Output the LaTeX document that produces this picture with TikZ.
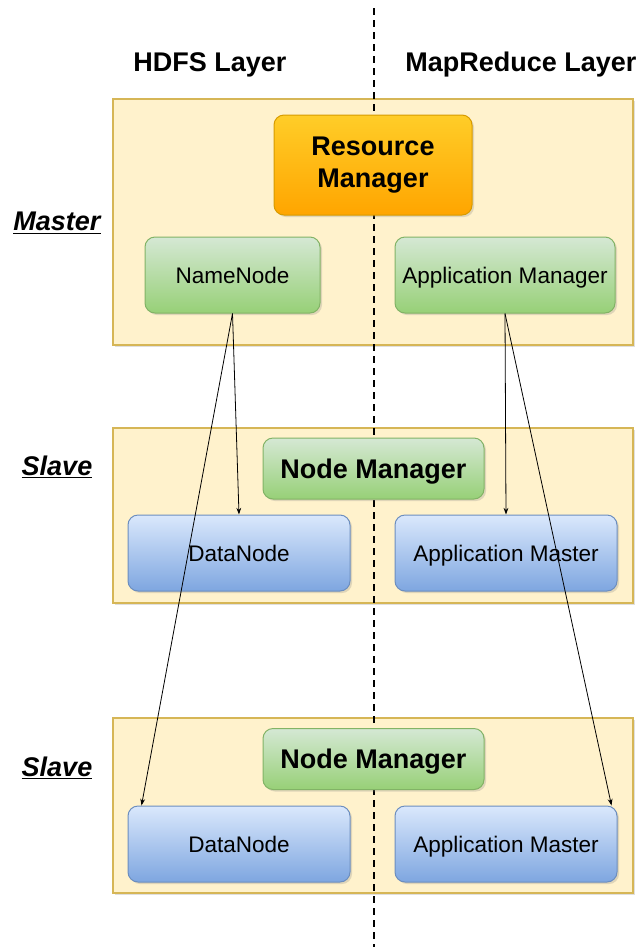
\documentclass[tikz,border=0pt]{standalone}
\usepackage{fontspec}
\setmainfont{Liberation Sans}
\usetikzlibrary{arrows.meta,shadows}

\definecolor{tierfill}{HTML}{FFF2CC}
\definecolor{tierline}{HTML}{D6B656}
\definecolor{greentop}{HTML}{D5E8D4}
\definecolor{greenbot}{HTML}{97D077}
\definecolor{greenline}{HTML}{82B366}
\definecolor{bluetop}{HTML}{DAE8FC}
\definecolor{bluebot}{HTML}{7EA6E0}
\definecolor{blueline}{HTML}{6C8EBF}
\definecolor{orangetop}{HTML}{FFCD28}
\definecolor{orangebot}{HTML}{FFA500}
\definecolor{orangeline}{HTML}{D79B00}

\tikzset{every picture/.style={line width=0.75pt}}
\tikzset{
  boxshadow/.style={drop shadow={opacity=0.25,shadow xshift=1.5pt,shadow yshift=-1.5pt}},
  tierbox/.style={draw=tierline,fill=tierfill,line width=1.2pt,minimum width=390pt,boxshadow},
  roundbox/.style={rounded corners=7.5pt,inner sep=0pt,align=center,boxshadow},
  capline/.style={text height=#1,text depth=0pt},
  greenbox/.style={roundbox,draw=greenline,top color=greentop,bottom color=greenbot},
  bluebox/.style={roundbox,draw=blueline,top color=bluetop,bottom color=bluebot,
    minimum width=166.5pt,minimum height=57pt,smalltext},
  orangebox/.style={roundbox,draw=orangeline,top color=orangetop,bottom color=orangebot},
  bigtext/.style={font=\fontsize{20.25}{24.5}\selectfont\bfseries},
  bigline/.style={bigtext,capline=14.6pt},
  smalltext/.style={font=\fontsize{16.9}{20}\selectfont,capline=12.2pt},
  rolelabel/.style={font=\fontsize{20.25}{24.5}\selectfont\bfseries\itshape},
  divider/.style={line width=1.9pt,dash pattern=on 5.25pt off 3.75pt},
  link/.style={line width=0.6pt,-{Stealth[length=5pt,width=3.6pt]}}
}

\begin{document}
\begin{tikzpicture}[x=0.75pt,y=0.75pt,yscale=-1,xscale=1]
        \useasboundingbox (0,0) rectangle (642,947);

        % Tier backgrounds
        \node [tierbox,minimum height=184.5pt] (master) at (373,222) {};
        \node [tierbox,minimum height=131.25pt] (slaveA) at (373,515.5) {};
        \node [tierbox,minimum height=131.25pt] (slaveB) at (373,805.5) {};

        % Layer divider
        \draw [divider] (374,8) -- (374,947);

        % Column headings
        \node [bigline] (hdfs) at (210,62) {HDFS Layer};
        \node [bigline] (mapred) at (521,62) {MapReduce Layer};

        % Row labels
        \node [rolelabel] (masterlbl) at (57,223) {\underline{Master}};
        \node [rolelabel] (slavelblA) at (57,467) {\underline{Slave}};
        \node [rolelabel] (slavelblB) at (57,768) {\underline{Slave}};

        % Master row
        \node [orangebox,bigtext,minimum width=148.5pt,minimum height=75pt] (rm) at (373,165) {Resource\\Manager};
        \node [greenbox,smalltext,minimum width=131.25pt,minimum height=57pt] (nn) at (232.5,275) {NameNode};
        \node [greenbox,smalltext,minimum width=165pt,minimum height=57pt] (appmgr) at (505,275) {Application Manager};

        % First slave row
        \node [greenbox,bigline,minimum width=165.75pt,minimum height=45.75pt] (nmA) at (373.5,468.5) {Node Manager};
        \node [bluebox] (dnA) at (239,553) {DataNode};
        \node [bluebox] (amA) at (506,553) {Application Master};

        % Second slave row
        \node [greenbox,bigline,minimum width=165.75pt,minimum height=45.75pt] (nmB) at (373.5,759) {Node Manager};
        \node [bluebox] (dnB) at (239,844) {DataNode};
        \node [bluebox] (amB) at (506,844) {Application Master};

        % Links
        \draw [link] (nn.south) -- (dnA.north);
        \draw [link] (nn.south) -- ([xshift=10.5pt]dnB.north west);
        \draw [link] (appmgr.south) -- (amA.north);
        \draw [link] (appmgr.south) -- ([xshift=-4.5pt]amB.north east);

\end{tikzpicture}
\end{document}
